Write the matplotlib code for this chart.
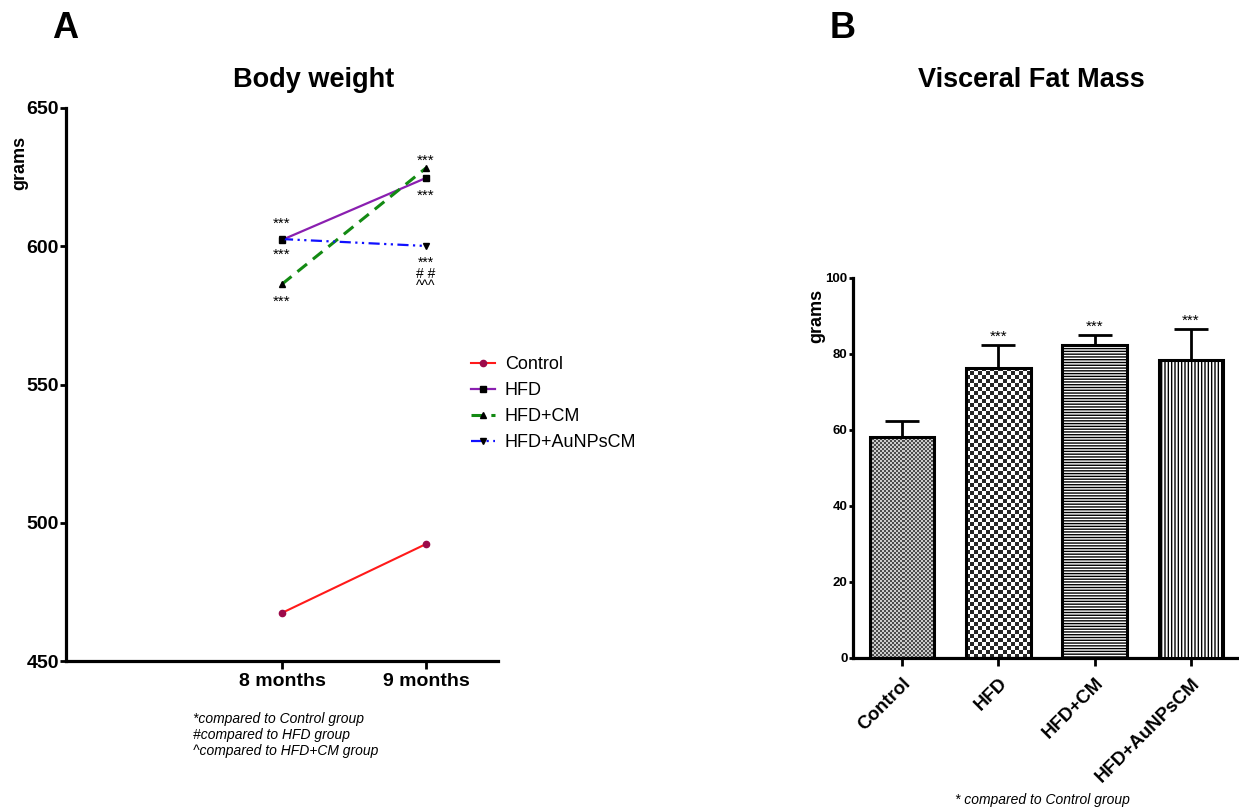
import numpy as np
import matplotlib
matplotlib.use("Agg")
import matplotlib.pyplot as plt

plt.rcParams['font.family'] = ['Liberation Sans', 'DejaVu Sans']
plt.rcParams['hatch.linewidth'] = 1.0

# panel A: body weight (grams)
months = ['8 months', '9 months']
control = [467.4, 492.3]
hfd = [602.3, 624.7]
hfd_cm = [586.3, 628.3]
hfd_aunps = [602.6, 600.1]

# panel B: visceral fat mass (grams)
groups = ['Control', 'HFD', 'HFD+CM', 'HFD+AuNPsCM']
fat_mean = [58.2, 76.4, 82.4, 78.4]
fat_sem = [4.3, 6.0, 2.7, 8.2]

W, H = 1239, 808
fig = plt.figure(figsize=(W / 100, H / 100), dpi=100)


def box(x0, y0, x1, y1):
    # pixel box -> figure fraction
    return [x0 / W, 1 - y1 / H, (x1 - x0) / W, (y1 - y0) / H]


# ---------------- A ----------------
ax = fig.add_axes(box(66, 108, 498, 661))
x = np.arange(len(months))
ax.plot(x, control, color='#ff1a1a', lw=1.5, marker='o', ms=4.5,
        mfc='#9c0a4a', mec='#9c0a4a', label='Control', zorder=3)
ax.plot(x, hfd, color='#8a1fb0', lw=1.6, marker='s', ms=5,
        mfc='black', mec='black', label='HFD', zorder=3)
ax.plot(x, hfd_cm, color='#138a13', lw=2.2, ls=(0, (4, 2.5)), marker='^', ms=5,
        mfc='black', mec='black', label='HFD+CM', zorder=3)
ax.plot(x, hfd_aunps, color='#1010ff', lw=1.6, ls=(0, (5, 2, 1, 2, 1, 2)),
        marker='v', ms=4, mfc='black', mec='black', label='HFD+AuNPsCM', zorder=4)

ax.set_xlim(-1.5, 1.5)
ax.set_ylim(450, 650)
ax.set_yticks([450, 500, 550, 600, 650])
ax.set_xticks(x)
ax.set_xticklabels(months, fontsize=14, fontweight='bold')
for lab in ax.get_yticklabels():
    lab.set_fontweight('bold')
    lab.set_fontsize(14)
for s in ['top', 'right']:
    ax.spines[s].set_visible(False)
for s in ['left', 'bottom']:
    ax.spines[s].set_linewidth(2.3)
ax.tick_params(axis='y', length=4, width=2, pad=1)
ax.tick_params(axis='x', length=6, width=2, pad=3)
ax.set_ylabel('grams', fontsize=13, fontweight='bold')
ax.yaxis.set_label_coords(-0.087, 0.9)

star_kw = dict(textcoords='offset points', ha='center', va='center', fontsize=11)
ax.annotate('***', (0, hfd[0]), xytext=(0, 11.5), **star_kw)
ax.annotate('***', (0, hfd[0]), xytext=(0, -10.5), **star_kw)
ax.annotate('***', (0, hfd_cm[0]), xytext=(0, -12.5), **star_kw)
ax.annotate('***', (1, hfd_cm[1]), xytext=(0, 5.5), **star_kw)
ax.annotate('***', (1, hfd[1]), xytext=(0, -13), **star_kw)
ax.annotate('***\n# #\n^^^', (1, hfd_aunps[1]), xytext=(0, -20.5),
            textcoords='offset points', ha='center', va='center',
            fontsize=10, linespacing=0.8)

ax.legend(loc='upper left', bbox_to_anchor=(455 / W, 1 - 340 / H),
          bbox_transform=fig.transFigure, frameon=False, fontsize=13,
          handlelength=1.3, labelspacing=0.5, handletextpad=0.55)

fig.text(314 / W, 1 - 80 / H, 'Body weight', fontsize=19.5, fontweight='bold',
         ha='center', va='center')
fig.text(52 / W, 1 - 28 / H, 'A', fontsize=26, fontweight='bold', ha='left', va='center')
notes = ['*compared to Control group', '#compared to HFD group', '^compared to HFD+CM group']
for k, note in enumerate(notes):
    fig.text(193 / W, 1 - (719 + 16 * k) / H, note, fontsize=10, style='italic',
             ha='left', va='center')

# ---------------- B ----------------
bx = fig.add_axes(box(853, 278, 1239, 658))
xb = np.arange(len(groups))
bw = 0.67
bars = bx.bar(xb, fat_mean, width=bw, color='white', edgecolor='black',
              linewidth=2.2, zorder=3)
bx.errorbar(xb, fat_mean, yerr=[np.zeros(len(groups)), fat_sem], fmt='none',
            ecolor='black', elinewidth=2, capsize=12, capthick=2, zorder=2)
bx.set_xlim(-0.51, 3.5)
bx.set_ylim(0, 100)


# checkerboard textures inside the first two bars
def checker_fill(bar, cell_px, light=1.0, dark=0.15):
    x0, y0 = bar.get_x(), bar.get_y()
    x1, y1 = x0 + bar.get_width(), y0 + bar.get_height()
    p0 = bx.transData.transform((x0, y0))
    p1 = bx.transData.transform((x1, y1))
    nx = max(1, int(round((p1[0] - p0[0]) / cell_px)))
    ny = max(1, int(round((p1[1] - p0[1]) / cell_px)))
    ii, jj = np.indices((ny, nx))
    arr = np.where((ii + jj) % 2 == 0, dark, light)
    bar.set_facecolor('none')
    im = bx.imshow(arr, cmap='gray', vmin=0, vmax=1, extent=[x0, x1, y0, y1],
                   aspect='auto', interpolation='nearest', zorder=2.5)
    im.set_clip_path(bar)


checker_fill(bars[0], 2.0, light=0.8, dark=0.3)
checker_fill(bars[1], 4.0)
bars[2].set_hatch('------')
bars[3].set_hatch('|||||')
bx.set_xlim(-0.51, 3.5)
bx.set_ylim(0, 100)

bx.set_yticks([0, 20, 40, 60, 80, 100])
for lab in bx.get_yticklabels():
    lab.set_fontweight('bold')
    lab.set_fontsize(9.5)
bx.set_xticks(xb)
bx.set_xticklabels(groups, rotation=45, ha='right', rotation_mode='anchor',
                   fontsize=13.5, fontweight='bold')
for s in ['top', 'right']:
    bx.spines[s].set_visible(False)
for s in ['left', 'bottom']:
    bx.spines[s].set_linewidth(2.3)
bx.tick_params(axis='y', length=3, width=2, pad=1)
bx.tick_params(axis='x', length=6, width=2, pad=6)
bx.set_ylabel('grams', fontsize=13, fontweight='bold')
bx.yaxis.set_label_coords(-0.072, 0.90)

for i in range(1, len(groups)):
    bx.annotate('***', (xb[i], fat_mean[i] + fat_sem[i]), xytext=(0, 6),
                textcoords='offset points', ha='center', va='center', fontsize=11)

fig.text(1031 / W, 1 - 80 / H, 'Visceral Fat Mass', fontsize=19.5, fontweight='bold',
         ha='center', va='center')
fig.text(830 / W, 1 - 28 / H, 'B', fontsize=26, fontweight='bold', ha='left', va='center')
fig.text(955 / W, 1 - 800 / H, '* compared to Control group', fontsize=10,
         style='italic', ha='left', va='center')

fig.savefig('out.png', dpi=100)
